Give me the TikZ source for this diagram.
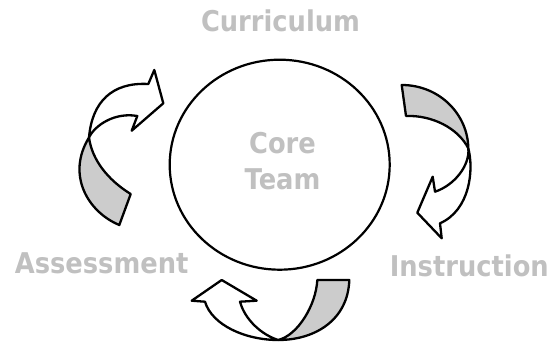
\documentclass[tikz,border=0pt]{standalone}
\usepackage{fontspec}
\newfontfamily\labelfont{DejaVu Sans}[FakeStretch=0.9]
\usepackage{tikz}
\usetikzlibrary{shapes}
\definecolor{labelgray}{RGB}{192,192,192}
\definecolor{bandgray}{RGB}{204,204,204}
\tikzstyle{core} = [ellipse,draw,line width=2.2pt,minimum width=220pt,minimum height=210pt,inner sep=0pt]
\tikzstyle{label} = [text=labelgray,font=\labelfont\bfseries\fontsize{28.6}{36}\selectfont,inner sep=0pt,align=center]
\tikzstyle{back} = [draw,line width=2.3pt,line join=round,fill=bandgray]
\tikzstyle{front} = [draw,line width=2.3pt,line join=round,fill=white]

\begin{document}
\begin{tikzpicture}[x=1pt,y=-1pt]
    \useasboundingbox (0,0) rectangle (556,343);
    % Draw the team in the middle
    \node[core] (team) at (279.7,164.7) {};
    \node[label,anchor=north] (coreteam) at (282.5,132.5) {Core\\Team};

    % Then the three stages round it
    \foreach \pos/ \name/ \txt in {{(280.5,31)/curr/Curriculum},{(469.3,276.7)/instr/Instruction},{(101.7,273.3)/assess/Assessment}}
        \node[label,anchor=base] (\name) at \pos {\txt};

    % Points where the bands twist
    \coordinate (lx) at (89,137.5);
    \coordinate (rx) at (468.3,148.3);
    \coordinate (bx) at (278.3,340);

    % Left arrow: assessment back to curriculum
    \path[back] (130.7,194) .. controls (108,180) and (92,160) .. (lx)
        .. controls (66,175) and (88,212) .. (119.3,225) -- cycle;
    \path[front] (lx) .. controls (92,102) and (112,82) .. (148.3,84) -- (154.3,70) -- (163.3,103.3)
        -- (131.7,130.7) -- (137.3,116) .. controls (115,112) and (95,125) .. (lx) -- cycle;

    % Right arrow: curriculum to instruction
    \path[back] (401.7,85) .. controls (440,85) and (468,115) .. (rx)
        .. controls (458,128) and (432,115) .. (406,116) -- cycle;
    \path[front] (rx) .. controls (474,170) and (470,210) .. (440,223.3) -- (441.7,238.3) -- (417.3,212.7)
        -- (432.7,176.7) -- (435,191.7) .. controls (455,185) and (470,165) .. (rx) -- cycle;

    % Bottom arrow: instruction to assessment
    \path[back] (bx) .. controls (315,340) and (348,320) .. (349.3,280) -- (317.3,280)
        .. controls (316,305) and (298,335) .. (bx) -- cycle;
    \path[front] (bx) .. controls (245,340) and (212,325) .. (205,301.7) -- (191.7,300.7) -- (221.7,280)
        -- (256.7,300.7) -- (240,301.7) .. controls (245,320) and (262,335) .. (bx) -- cycle;
\end{tikzpicture}
\end{document}
